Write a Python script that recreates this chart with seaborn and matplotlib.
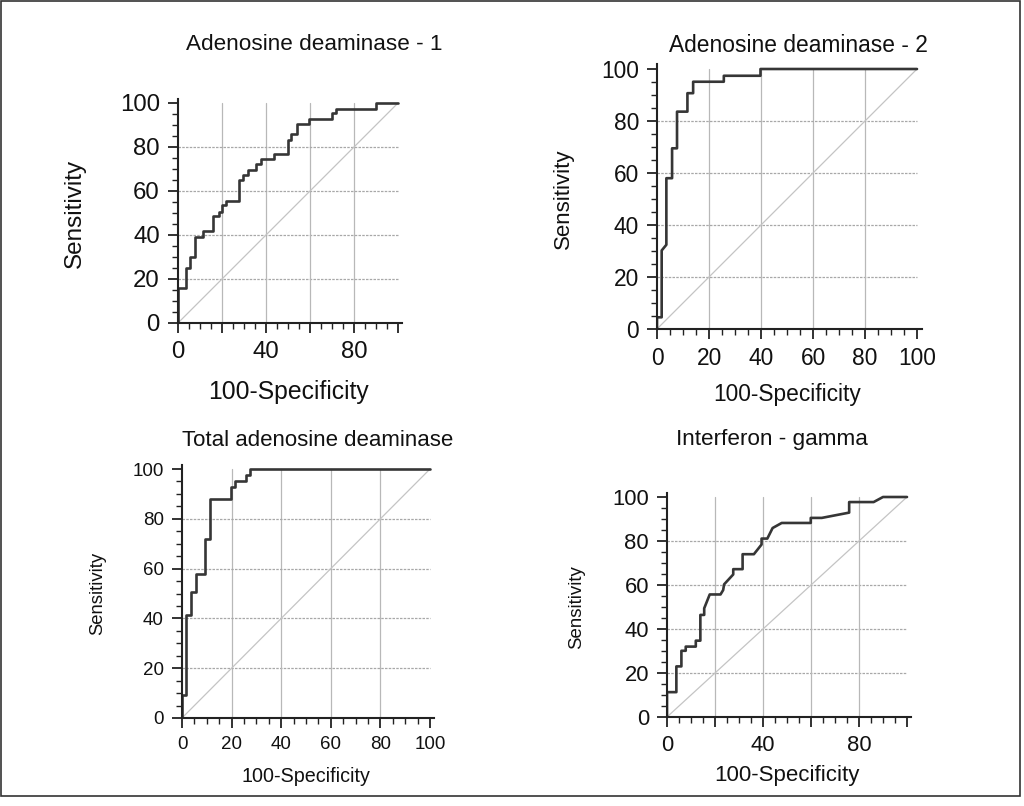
import matplotlib
matplotlib.use('Agg')
import matplotlib.pyplot as plt
from matplotlib.ticker import MultipleLocator
from matplotlib.patches import Rectangle
import seaborn as sns

# ROC curve vertices (100-Specificity, Sensitivity)
ada1_fpr = [0, 0, 3.8, 3.8, 5.6, 5.6, 7.6, 7.6, 11.4, 11.4, 16.0, 16.0, 18.7, 18.7,
            19.8, 19.8, 21.7, 21.7, 27.8, 27.8, 29.6, 29.6, 31.8, 31.8, 35.4, 35.4,
            37.5, 37.5, 43.8, 43.8, 49.8, 49.8, 51.4, 51.4, 54.0, 54.0, 59.7, 59.7,
            69.9, 69.9, 71.7, 71.7, 90.0, 90.0, 100]
ada1_tpr = [0, 16.1, 16.1, 25.2, 25.2, 30.1, 30.1, 39.2, 39.2, 41.6, 41.6, 48.8, 48.8, 50.6,
            50.6, 53.6, 53.6, 55.5, 55.5, 65.0, 65.0, 67.3, 67.3, 69.6, 69.6, 72.2,
            72.2, 74.5, 74.5, 76.7, 76.7, 83.3, 83.3, 85.9, 85.9, 90.6, 90.6, 92.9,
            92.9, 95.4, 95.4, 97.3, 97.3, 100, 100]

ada2_fpr = [0, 0, 1.8, 1.8, 3.6, 3.6, 5.8, 5.8, 7.7, 7.7, 11.7, 11.7, 13.9, 13.9,
            25.7, 25.7, 39.8, 39.8, 100]
ada2_tpr = [0, 4.5, 4.5, 30.2, 32.4, 58.0, 58.0, 69.5, 69.5, 83.6, 83.6, 90.7, 90.7, 95.1,
            95.1, 97.4, 97.4, 100, 100]

tada_fpr = [0, 0, 1.5, 1.5, 3.8, 3.8, 5.5, 5.5, 9.4, 9.4, 11.4, 11.4, 19.7, 19.7,
            21.3, 21.3, 26.0, 26.0, 27.6, 27.6, 100]
tada_tpr = [0, 9.4, 9.4, 41.5, 41.5, 50.6, 50.6, 57.8, 57.8, 71.9, 71.9, 88.1, 88.1, 92.6,
            92.6, 95.0, 95.0, 97.5, 97.5, 100, 100]

ifng_fpr = [0, 0, 3.9, 3.9, 6.0, 6.0, 7.8, 7.8, 12.0, 12.0, 13.9, 13.9, 15.5, 15.5,
            17.8, 22.3, 23.4, 23.8, 27.6, 27.6, 31.5, 31.5, 36.2, 39.4, 39.4, 41.8,
            44.0, 47.8, 59.9, 59.9, 64.5, 75.9, 75.9, 86.1, 90.0, 100]
ifng_tpr = [0, 11.3, 11.3, 23.0, 23.0, 30.1, 30.1, 32.0, 32.0, 34.7, 34.7, 46.4, 46.4, 49.4,
            55.7, 55.7, 57.7, 60.3, 64.8, 67.2, 67.2, 74.0, 74.0, 78.4, 81.1, 81.1,
            85.9, 88.2, 88.2, 90.5, 90.5, 92.9, 97.7, 97.7, 100, 100]

titles = ['Adenosine deaminase - 1', 'Adenosine deaminase - 2',
          'Total adenosine deaminase', 'Interferon - gamma']
diag = [0, 100]
grid_vals = [20, 40, 60, 80]
major_ticks = [0, 20, 40, 60, 80, 100]
labels_all = ['0', '20', '40', '60', '80', '100']
labels_sparse = ['0', '', '40', '', '80', '']

sns.set_theme(style='ticks')
plt.rcParams['font.family'] = ['Liberation Sans', 'DejaVu Sans']

W, H = 1024, 806
LIM = 101.8
fig = plt.figure(figsize=(W / 100, H / 100), dpi=100)

# pixel layout of each panel: x of 0 / 100, y of 0 / 100, text sizes and spots
panels = [
    dict(fpr=ada1_fpr, tpr=ada1_tpr, box=(178, 398, 323, 103), title_xy=(314, 45),
         tfs=16.2, tick_fs=17.3, xl_fs=17.8, yl_fs=17.5, xl_y=392, yl_x=75, xlab=labels_sparse),
    dict(fpr=ada2_fpr, tpr=ada2_tpr, box=(657, 917, 329, 69), title_xy=(798, 45),
         tfs=16.4, tick_fs=16.4, xl_fs=16.4, yl_fs=16, xl_y=395, yl_x=563, xlab=labels_all),
    dict(fpr=tada_fpr, tpr=tada_tpr, box=(182, 430, 718, 469), title_xy=(318, 440),
         tfs=16.0, tick_fs=13.5, xl_fs=14.2, yl_fs=13.3, xl_y=776, yl_x=98, xlab=labels_all),
    dict(fpr=ifng_fpr, tpr=ifng_tpr, box=(667, 907, 717, 497), title_xy=(772, 439),
         tfs=16.2, tick_fs=15.8, xl_fs=16.0, yl_fs=13.4, xl_y=775, yl_x=577, xlab=labels_sparse),
]

for p, title in zip(panels, titles):
    x0, x100, y0, y100 = p['box']
    wpx = (x100 - x0) * LIM / 100
    hpx = (y0 - y100) * LIM / 100
    ax = fig.add_axes([x0 / W, 1 - y0 / H, wpx / W, hpx / H])

    for g in grid_vals:
        ax.axvline(g, ymax=100 / LIM, color='#b8b8b8', lw=0.9, zorder=0)
        ax.axhline(g, xmax=100 / LIM, color='#a8a8a8', lw=0.9, ls=(0, (2, 1)), zorder=0)

    sns.lineplot(x=diag, y=diag, ax=ax, color='#c4c4c4', lw=0.9)
    sns.lineplot(x=p['fpr'], y=p['tpr'], ax=ax, sort=False, estimator=None,
                 color='#363636', lw=1.9)

    ax.set_xlim(0, LIM)
    ax.set_ylim(0, LIM)
    ax.set_xticks(major_ticks)
    ax.set_xticklabels(p['xlab'])
    ax.set_yticks(major_ticks)
    ax.set_yticklabels(labels_all)
    ax.xaxis.set_minor_locator(MultipleLocator(5))
    ax.yaxis.set_minor_locator(MultipleLocator(5))
    ax.tick_params(which='major', length=7, width=1.3, color='#222222',
                   labelsize=p['tick_fs'], labelcolor='#111111', pad=6)
    ax.tick_params(which='minor', length=4, width=1.0, color='#222222')
    ax.tick_params(axis='x', which='both', bottom=True)
    ax.tick_params(axis='y', which='both', left=True)

    sns.despine(ax=ax)
    for s in ['left', 'bottom']:
        ax.spines[s].set_linewidth(1.5)
        ax.spines[s].set_color('#222222')

    ax.set_xlabel('100-Specificity', fontsize=p['xl_fs'], color='#111111')
    ax.set_ylabel('Sensitivity', fontsize=p['yl_fs'], color='#111111')
    ax.xaxis.label.set_va('center')
    ax.yaxis.label.set_va('center')
    cx = (x0 + x100) / 2
    cy = (y0 + y100) / 2
    ax.xaxis.set_label_coords((cx - x0) / wpx, (y0 - p['xl_y']) / hpx)
    ax.yaxis.set_label_coords((p['yl_x'] - x0) / wpx, (y0 - cy) / hpx)

    tx, ty = p['title_xy']
    fig.text(tx / W, 1 - ty / H, title, fontsize=p['tfs'], color='#111111',
             ha='center', va='center')

fig.add_artist(Rectangle((1 / W, 10 / H), 1019 / W, 795 / H, transform=fig.transFigure,
                         fill=False, ec='#333333', lw=1.2))

fig.savefig('out.png', dpi=100)
